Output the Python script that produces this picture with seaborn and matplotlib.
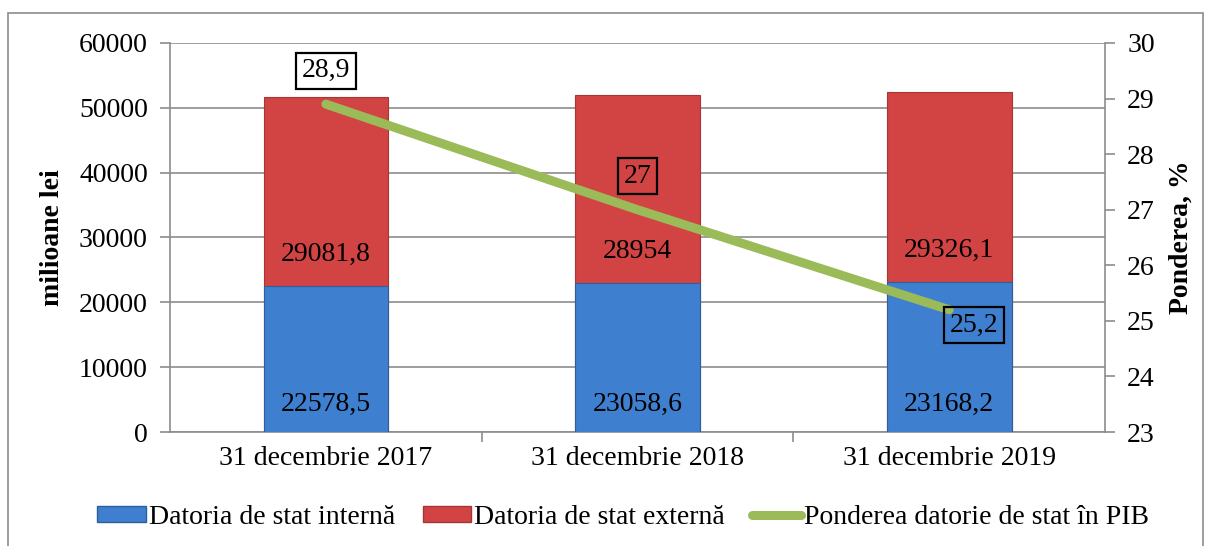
import matplotlib
matplotlib.use("Agg")
import matplotlib.pyplot as plt
import seaborn as sns
import pandas as pd
from matplotlib.patches import Patch, Rectangle
from matplotlib.lines import Line2D

categories = ["31 decembrie 2017", "31 decembrie 2018", "31 decembrie 2019"]
internal = [22578.5, 23058.6, 23168.2]
external = [29081.8, 28954, 29326.1]
share = [28.9, 27, 25.2]
internal_labels = ["22578,5", "23058,6", "23168,2"]
external_labels = ["29081,8", "28954", "29326,1"]
share_labels = ["28,9", "27", "25,2"]
legend_labels = ["Datoria de stat internă", "Datoria de stat externă", "Ponderea datorie de stat în PIB"]

sns.set_theme(style="white")
plt.rcParams['font.family'] = ['Liberation Serif', 'DejaVu Serif']
plt.rcParams['text.color'] = 'black'
plt.rcParams['axes.labelcolor'] = 'black'
FS = 20

df = pd.DataFrame({"cat": categories, "internal": internal,
                   "total": [a + b for a, b in zip(internal, external)]})

fig = plt.figure(figsize=(12.12, 5.46), dpi=100)
ax = fig.add_axes([170/1212, 1-432/546, (1105-170)/1212, (432-43)/546])

blue = "#3f7fcf"
red = "#d24343"
green = "#9bbb59"
gray = "#8c8c8c"

sns.barplot(data=df, x="cat", y="total", color=red, width=0.4, ax=ax,
            saturation=1, edgecolor="#a83535", linewidth=0.8, zorder=2)
sns.barplot(data=df, x="cat", y="internal", color=blue, width=0.4, ax=ax,
            saturation=1, edgecolor="#2f5f9a", linewidth=0.8, zorder=3)

ax.set_ylim(0, 60000)
ax.set_xlim(-0.5, 2.5)
ax.set_yticks(range(0, 60001, 10000))
ax.set_yticklabels([str(v) for v in range(0, 60001, 10000)], fontsize=FS)
ax.yaxis.grid(True, color=gray, linewidth=1.2, zorder=0)
ax.set_axisbelow(True)
ax.set_xlabel("")
ax.set_ylabel("milioane lei", fontsize=FS, fontweight="bold", labelpad=10)
ax.set_xticks(range(3))
ax.set_xticklabels(categories, fontsize=FS)
ax.tick_params(axis="x", length=0, pad=10, labelcolor="black")
ax.set_xticks([0.5, 1.5], minor=True)
ax.tick_params(axis="x", which="minor", length=7, color=gray, width=1.2, direction="out", bottom=True)
ax.tick_params(axis="y", length=7, color=gray, width=1.2, direction="out", left=True, pad=9,
               labelcolor="black")
for s in ["top", "right"]:
    ax.spines[s].set_visible(False)
for s in ["left", "bottom"]:
    ax.spines[s].set_color(gray)
    ax.spines[s].set_linewidth(1.2)

for i in range(3):
    ax.text(i, 4200, internal_labels[i], ha="center", va="center", fontsize=FS, zorder=5, color="black")
    ax.text(i, internal[i] + 4800, external_labels[i], ha="center", va="center", fontsize=FS, zorder=5, color="black")

ax2 = ax.twinx()
ax2.set_position(ax.get_position())
sns.lineplot(x=[0, 1, 2], y=share, color=green, linewidth=6.5, ax=ax2, zorder=6,
             solid_capstyle="round")
ax2.set_ylim(23, 30)
ax2.set_xlim(-0.5, 2.5)
ax2.set_yticks(range(23, 31))
ax2.set_yticklabels([str(v) for v in range(23, 31)], fontsize=FS)
ax2.tick_params(axis="y", length=7, color=gray, width=1.2, direction="out", right=True, pad=9,
                labelcolor="black")
ax2.set_ylabel("Ponderea, %", fontsize=FS, fontweight="bold", labelpad=10)
for s in ["top", "left", "bottom"]:
    ax2.spines[s].set_visible(False)
ax2.spines["right"].set_color(gray)
ax2.spines["right"].set_linewidth(1.2)

box = dict(boxstyle="square,pad=0.2", facecolor="white", edgecolor="black", linewidth=1.6)
box_t = dict(boxstyle="square,pad=0.2", facecolor="none", edgecolor="black", linewidth=1.6)
ax2.text(0, share[0] + 0.6, share_labels[0], ha="center", va="center", fontsize=FS, bbox=box, zorder=7)
ax2.text(1, share[1] + 0.6, share_labels[1], ha="center", va="center", fontsize=FS, bbox=box_t, zorder=7)
ax2.text(2.08, share[2] - 0.28, share_labels[2], ha="center", va="center", fontsize=FS, bbox=box_t, zorder=7)

handles = [Patch(facecolor=blue, edgecolor="#2f5f9a"),
           Patch(facecolor=red, edgecolor="#a83535"),
           Line2D([0], [0], color=green, linewidth=6.5, solid_capstyle="round")]
fig.legend(handles, legend_labels, loc="center", bbox_to_anchor=(623/1212, 1-517/546),
           ncol=3, frameon=False, fontsize=FS, handlelength=1.75, handleheight=0.5,
           handletextpad=0.1, columnspacing=1.0)

fig.patches.append(Rectangle((8/1212, -0.01), (1203-8)/1212, 1-13/546+0.01,
                             transform=fig.transFigure, fill=False,
                             edgecolor=gray, linewidth=1.2))

fig.savefig("out.png", dpi=100)
